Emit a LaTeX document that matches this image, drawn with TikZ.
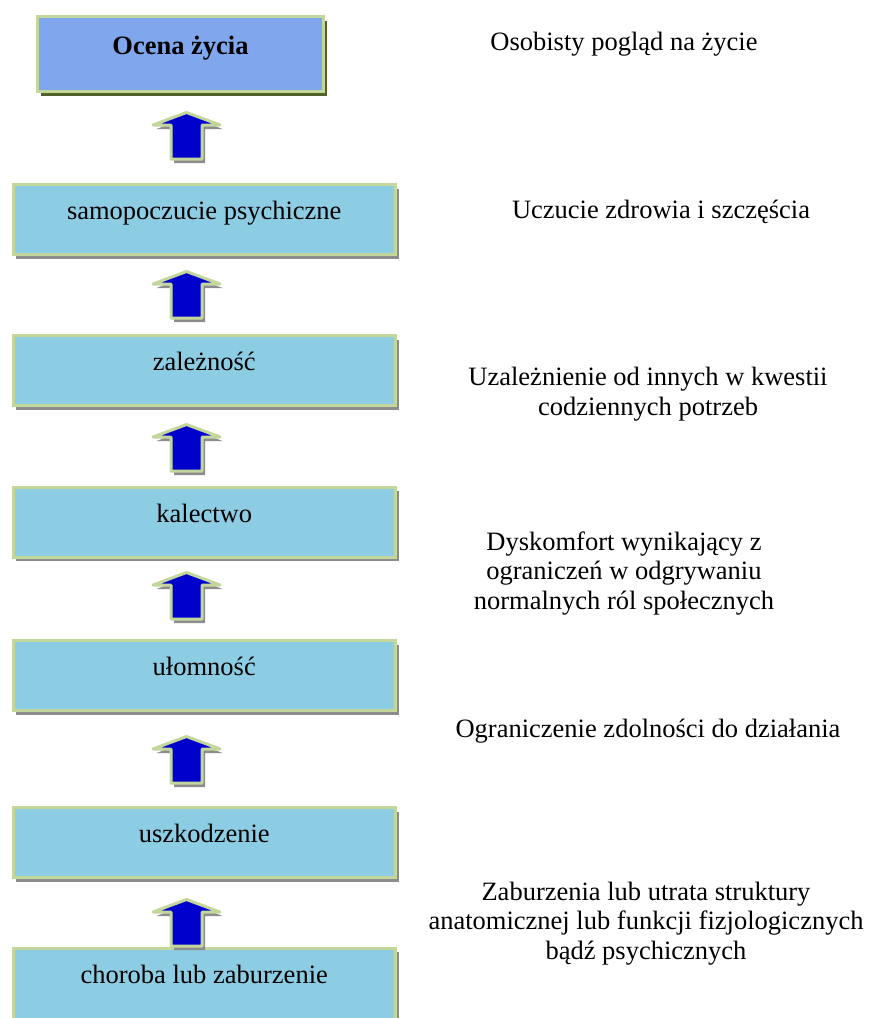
\documentclass[tikz,border=0pt]{standalone}
\usepackage{fontspec}
\setmainfont{Liberation Serif}
\usetikzlibrary{shadows}
\definecolor{topfill}{HTML}{80A6EE}
\definecolor{boxfill}{HTML}{8DCDE4}
\definecolor{edgegreen}{HTML}{C3D69B}
\definecolor{olivesh}{HTML}{4F6228}
\definecolor{graysh}{HTML}{8C8C8C}
\definecolor{arrblue}{HTML}{0000CC}
\tikzset{
  levelbox/.style={draw=edgegreen, line width=3pt, fill=boxfill, rectangle,
    minimum width=382.5pt, minimum height=70pt, inner sep=0pt,
    text height=12pt, text depth=12pt,
    font=\fontsize{26.5}{30}\selectfont,
    drop shadow={shadow xshift=3pt, shadow yshift=-4pt, fill=graysh, opacity=1}},
  topbox/.style={levelbox, fill=topfill, minimum width=286pt, minimum height=75pt,
    font=\fontsize{26.5}{30}\selectfont\bfseries,
    drop shadow={shadow xshift=3pt, shadow yshift=-4pt, fill=olivesh, opacity=1}},
  desc/.style={align=center, inner sep=0pt, anchor=base,
    font=\fontsize{26.5}{29.5}\selectfont},
  uparr/.pic={
    \fill[graysh] (3,5.5) -- (36,18) -- (18.5,18) -- (18.5,52) -- (-12.5,52) -- (-12.5,18) -- (-30,18) -- cycle;
    \draw[edgegreen, line width=3pt, line join=round, fill=arrblue]
      (0,1.5) -- (33.5,14) -- (15.5,14) -- (15.5,48) -- (-15.5,48) -- (-15.5,14) -- (-33.5,14) -- cycle;
  }
}
\begin{document}
\begin{tikzpicture}[x=1pt, y=-1pt]
\useasboundingbox (0,0) rectangle (869,1018);
\clip (0,0) rectangle (869,1018);
% boxes
\node[topbox]   (b0) at (180.5,54)  {Ocena życia};
\node[levelbox] (b1) at (204.25,219.5) {samopoczucie psychiczne};
\node[levelbox] (b2) at (204.25,370.5) {zależność};
\node[levelbox] (b3) at (204.25,522)   {kalectwo};
\node[levelbox] (b4) at (204.25,675.5) {ułomność};
\node[levelbox] (b5) at (204.25,842.5) {uszkodzenie};
\node[levelbox, minimum height=90pt, text depth=32pt] (b6) at (204.25,993) {choroba lub zaburzenie};
% arrows between levels
\pic at (186.5,111) {uparr};
\pic at (186.5,270) {uparr};
\pic at (186.5,423) {uparr};
\pic at (186.5,571) {uparr};
\pic at (186.5,735) {uparr};
\pic at (186.5,898) {uparr};
% descriptions (anchor base = baseline of last line)
\node[desc] (d0) at (624,50)  {Osobisty pogląd na życie};
\node[desc] (d1) at (661,218) {Uczucie zdrowia i szczęścia};
\node[desc] (d2) at (648,415) {Uzależnienie od innych w kwestii\\codziennych potrzeb};
\node[desc] (d3) at (624,609) {Dyskomfort wynikający z\\ograniczeń w odgrywaniu\\normalnych ról społecznych};
\node[desc] (d4) at (648,737) {Ograniczenie zdolności do działania};
\node[desc] (d5) at (646,959) {Zaburzenia lub utrata struktury\\anatomicznej lub funkcji fizjologicznych\\bądź psychicznych};
\end{tikzpicture}
\end{document}
